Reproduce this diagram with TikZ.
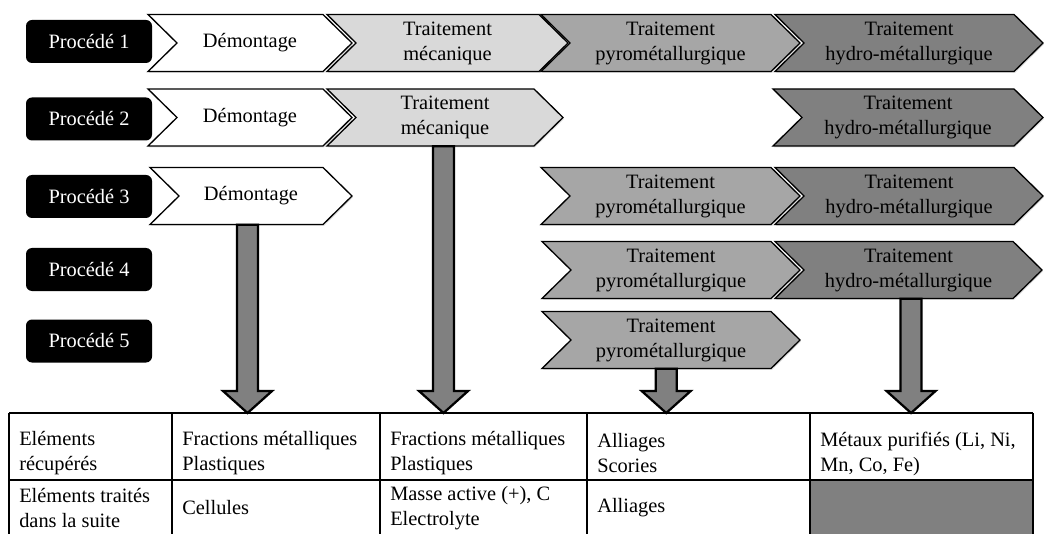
\documentclass[tikz,border=0pt]{standalone}
\usepackage{fontspec}
\setmainfont{Liberation Serif}
\usetikzlibrary{shadows,calc}
\definecolor{gMeca}{HTML}{D9D9D9}
\definecolor{gPyro}{HTML}{A6A6A6}
\definecolor{gHydro}{HTML}{808080}
\definecolor{gArrow}{HTML}{808080}
\newcommand{\txtsize}{\fontsize{15.3}{18.75}\selectfont}
% name, left x, tip x, centre y, fill, text
\newcommand{\chev}[6]{%
  \path[chevshape, fill=#5] (#2,#4-28.5) -- (#3-29,#4-28.5) -- (#3,#4) -- (#3-29,#4+28.5) -- (#2,#4+28.5) -- (#2+29,#4) -- cycle;
  \node[chevtext, minimum width={(#3-#2-58)*0.75pt}] (#1) at ({(#2+#3)/2},#4) {#6};
}
% start node anchor, x offset (pt), end reference
\newcommand{\blockarr}[3]{%
  \draw[blockarrow] let \p1=($(#1)+(#2,0)$), \p2=(\p1 |- #3) in
    (\x1-7.875pt,\y1) -- (\x1-7.875pt,\y2+16.5pt) -- (\x1-18.375pt,\y2+16.5pt) -- (\x1,\y2)
    -- (\x1+18.375pt,\y2+16.5pt) -- (\x1+7.875pt,\y2+16.5pt) -- (\x1+7.875pt,\y1) -- cycle;
}
\tikzset{
  chevshape/.style={draw=black, line width=1pt, line join=miter,
    drop shadow={shadow xshift=0.8pt, shadow yshift=-1pt, opacity=0.25}},
  chevtext/.style={inner sep=0pt, minimum height=42.75pt, align=center, font=\txtsize, text=black},
  proc/.style={fill=black, text=white, rounded corners=4.5pt, minimum width=94.5pt,
    minimum height=32.25pt, inner sep=0pt, font=\txtsize},
  blockarrow/.style={fill=gArrow, draw=black, line width=1.7pt, line join=miter},
  cell/.style={anchor=west, align=left, inner sep=0pt, font=\txtsize},
  tabline/.style={draw=black, line width=0.9pt}
}
\begin{document}
\begin{tikzpicture}[x=0.75pt, y=-0.75pt]
\useasboundingbox (0,0) rectangle (1044,534);
\clip (0,0) rectangle (1044,534);
\fill[white] (0,0) rectangle (1044,534);

% Procédé labels
\node[proc] (p1) at (89,41.5) {Procédé 1};
\node[proc] (p2) at (89,119) {Procédé 2};
\node[proc] (p3) at (89,196.5) {Procédé 3};
\node[proc] (p4) at (89,269.5) {Procédé 4};
\node[proc] (p5) at (89,341) {Procédé 5};

% Row 1
\chev{d1}{148}{352}{43}{white}{Démontage}
\chev{m1}{327}{568}{43}{gMeca}{Traitement\\mécanique}
\chev{y1}{541}{800}{43}{gPyro}{Traitement\\pyrométallurgique}
\chev{h1}{775}{1043}{43}{gHydro}{Traitement\\hydro-métallurgique}
% Row 2
\chev{d2}{148}{352}{117.5}{white}{Démontage}
\chev{m2}{327}{563}{117.5}{gMeca}{Traitement\\mécanique}
\chev{h2}{773}{1043}{117.5}{gHydro}{Traitement\\hydro-métallurgique}
% Row 3
\chev{d3}{150}{352}{196}{white}{Démontage}
\chev{y3}{541}{800}{196}{gPyro}{Traitement\\pyrométallurgique}
\chev{h3}{775}{1043}{196}{gHydro}{Traitement\\hydro-métallurgique}
% Row 4
\chev{y4}{542}{800}{270}{gPyro}{Traitement\\pyrométallurgique}
\chev{h4}{775}{1042}{270}{gHydro}{Traitement\\hydro-métallurgique}
% Row 5
\chev{y5}{542}{800}{340}{gPyro}{Traitement\\pyrométallurgique}

% Table
\coordinate (tabtop) at (9,413);
\fill[gHydro] (810,480) rectangle (1033,540);
\draw[tabline] (9,413) -- (1033,413);
\draw[tabline] (9,480) -- (1033,480);
\foreach \xx in {9,172,380,587,810,1033} {
  \draw[tabline] (\xx,413) -- (\xx,540);
}
\node[cell] (t11) at (19,453.5) {Eléments\\récupérés};
\node[cell] (t12) at (182,453.5) {Fractions métalliques\\Plastiques};
\node[cell] (t13) at (390,453.5) {Fractions métalliques\\Plastiques};
\node[cell] (t14) at (597,453.5) {Alliages\\Scories};
\node[cell] (t15) at (820,453.5) {Métaux purifiés (Li, Ni,\\Mn, Co, Fe)};
\node[cell] (t21) at (19,508) {Eléments traités\\dans la suite};
\node[cell] (t22) at (182,508) {Cellules};
\node[cell] (t23) at (390,508) {Masse active (+), C\\Electrolyte};
\node[cell] (t24) at (597,508) {Alliages};

% Block arrows
\blockarr{d3.south}{-2.6pt}{tabtop}
\blockarr{m2.south}{-1.1pt}{tabtop}
\blockarr{y5.south}{-3.6pt}{tabtop}
\blockarr{h4.south}{1.9pt}{tabtop}
\end{tikzpicture}
\end{document}
